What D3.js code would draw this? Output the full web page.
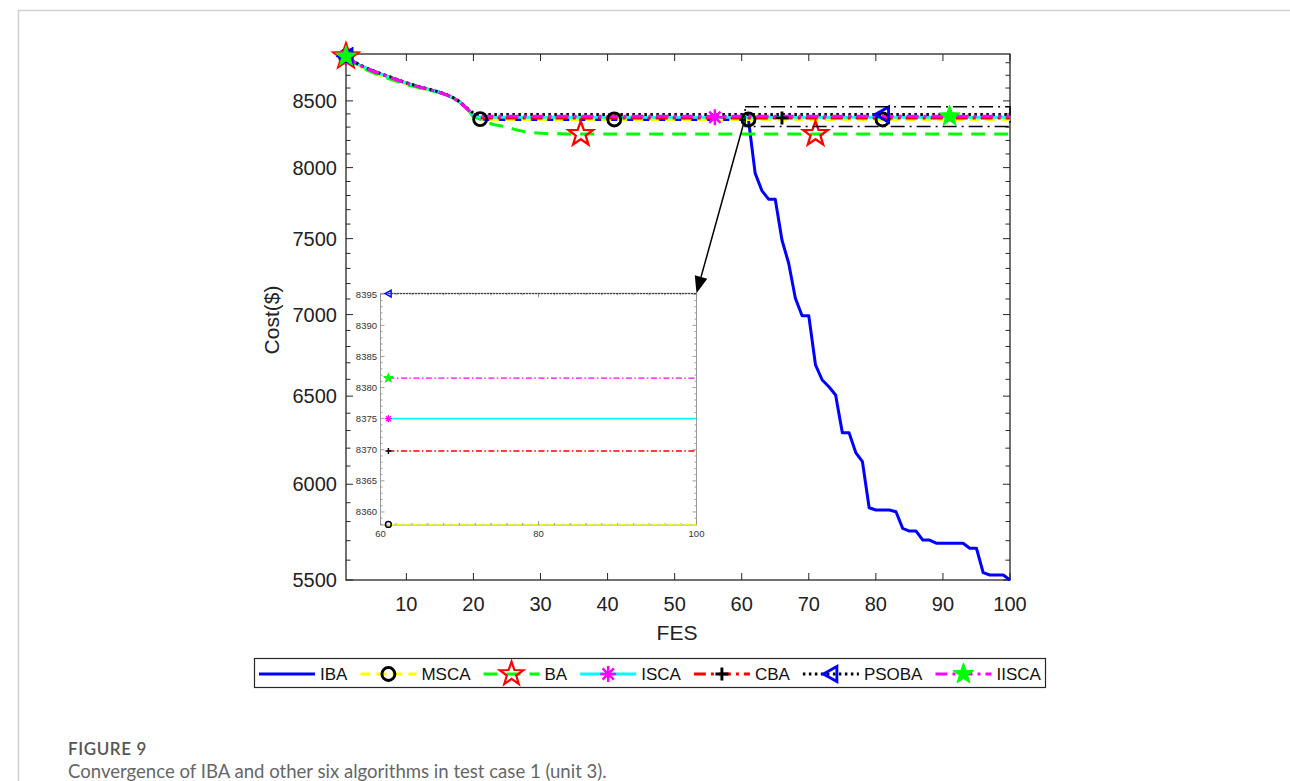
<!DOCTYPE html>
<html><head><meta charset="utf-8">
<script src="https://cdn.jsdelivr.net/npm/d3@7"></script>
<style>body{margin:0;background:#fff;} svg{display:block;}</style>
</head><body><svg id="c" width="1290" height="781"></svg>
<script>
// ---------------- DATA ----------------
const fes = d3.range(1, 101);
const seriesNames = ["IBA", "MSCA", "BA", "ISCA", "CBA", "PSOBA", "IISCA"];

const iba = [
 8850,8812,8782,8756,8734,8714,8695,8676,8657,8638,
 8622,8607,8593,8580,8565,8547,8523,8490,8442,8385,
 8362,8358,8358,8358,8358,8358,8358,8358,8358,8358,
 8358,8358,8358,8358,8358,8358,8358,8358,8358,8358,
 8358,8358,8358,8358,8358,8358,8358,8358,8358,8358,
 8358,8358,8358,8358,8358,8358,8358,8358,8358,8358,
 8358,7960,7835,7774,7774,7491,7334,7105,6993,6993,
 6687,6596,6556,6507,6288,6288,6175,6124,5873,5861,
 5861,5861,5852,5764,5750,5750,5703,5703,5687,5687,
 5687,5687,5687,5661,5661,5537,5525,5525,5525,5500];
const msca = [
 8850,8806,8773,8745,8721,8700,8681,8663,8645,8628,
 8613,8600,8588,8576,8562,8545,8522,8490,8442,8378,
 8360,8358,8358,8358,8358,8358,8358,8358,8358,8358,
 8358,8358,8358,8358,8358,8358,8358,8358,8358,8358,
 8358,8358,8358,8358,8358,8358,8358,8358,8358,8358,
 8358,8358,8358,8358,8358,8358,8358,8358,8358,8358,
 8358,8358,8358,8358,8358,8358,8358,8358,8358,8358,
 8358,8358,8358,8358,8358,8358,8358,8358,8358,8358,
 8358,8358,8358,8358,8358,8358,8358,8358,8358,8358,
 8358,8358,8358,8358,8358,8358,8358,8358,8358,8358];
const ba = [
 8850,8806,8773,8745,8721,8700,8681,8663,8645,8628,
 8613,8600,8588,8576,8562,8545,8522,8490,8442,8378,
 8360,8335,8320,8310,8300,8285,8272,8262,8257,8254,
 8252,8250,8250,8249,8249,8248,8248,8248,8248,8248,
 8248,8248,8248,8248,8248,8248,8248,8248,8248,8248,
 8248,8248,8248,8248,8248,8248,8248,8248,8248,8248,
 8248,8248,8248,8248,8248,8248,8248,8248,8248,8248,
 8248,8248,8248,8248,8248,8248,8248,8248,8248,8248,
 8248,8248,8248,8248,8248,8248,8248,8248,8248,8248,
 8248,8248,8248,8248,8248,8248,8248,8248,8248,8248];
const isca = [
 8850,8812,8782,8756,8734,8714,8695,8676,8657,8638,
 8622,8607,8593,8580,8565,8547,8523,8490,8442,8392,
 8375,8375,8375,8375,8375,8375,8375,8375,8375,8375,
 8375,8375,8375,8375,8375,8375,8375,8375,8375,8375,
 8375,8375,8375,8375,8375,8375,8375,8375,8375,8375,
 8375,8375,8375,8375,8375,8375,8375,8375,8375,8375,
 8375,8375,8375,8375,8375,8375,8375,8375,8375,8375,
 8375,8375,8375,8375,8375,8375,8375,8375,8375,8375,
 8375,8375,8375,8375,8375,8375,8375,8375,8375,8375,
 8375,8375,8375,8375,8375,8375,8375,8375,8375,8375];
const cba = [
 8850,8812,8782,8756,8734,8714,8695,8676,8657,8638,
 8622,8607,8593,8580,8565,8547,8523,8490,8442,8390,
 8369.8,8369.8,8369.8,8369.8,8369.8,8369.8,8369.8,8369.8,8369.8,8369.8,
 8369.8,8369.8,8369.8,8369.8,8369.8,8369.8,8369.8,8369.8,8369.8,8369.8,
 8369.8,8369.8,8369.8,8369.8,8369.8,8369.8,8369.8,8369.8,8369.8,8369.8,
 8369.8,8369.8,8369.8,8369.8,8369.8,8369.8,8369.8,8369.8,8369.8,8369.8,
 8369.8,8369.8,8369.8,8369.8,8369.8,8369.8,8369.8,8369.8,8369.8,8369.8,
 8369.8,8369.8,8369.8,8369.8,8369.8,8369.8,8369.8,8369.8,8369.8,8369.8,
 8369.8,8369.8,8369.8,8369.8,8369.8,8369.8,8369.8,8369.8,8369.8,8369.8,
 8369.8,8369.8,8369.8,8369.8,8369.8,8369.8,8369.8,8369.8,8369.8,8369.8];
const psoba = [
 8850,8814,8785,8759,8737,8717,8698,8679,8660,8641,
 8625,8610,8596,8582,8567,8549,8525,8493,8446,8405,
 8395.1,8395.1,8395.1,8395.1,8395.1,8395.1,8395.1,8395.1,8395.1,8395.1,
 8395.1,8395.1,8395.1,8395.1,8395.1,8395.1,8395.1,8395.1,8395.1,8395.1,
 8395.1,8395.1,8395.1,8395.1,8395.1,8395.1,8395.1,8395.1,8395.1,8395.1,
 8395.1,8395.1,8395.1,8395.1,8395.1,8395.1,8395.1,8395.1,8395.1,8395.1,
 8395.1,8395.1,8395.1,8395.1,8395.1,8395.1,8395.1,8395.1,8395.1,8395.1,
 8395.1,8395.1,8395.1,8395.1,8395.1,8395.1,8395.1,8395.1,8395.1,8395.1,
 8395.1,8395.1,8395.1,8395.1,8395.1,8395.1,8395.1,8395.1,8395.1,8395.1,
 8395.1,8395.1,8395.1,8395.1,8395.1,8395.1,8395.1,8395.1,8395.1,8395.1];
const iisca = [
 8850,8812,8782,8756,8734,8714,8695,8676,8657,8638,
 8622,8607,8593,8580,8565,8547,8523,8490,8442,8398,
 8381.5,8381.5,8381.5,8381.5,8381.5,8381.5,8381.5,8381.5,8381.5,8381.5,
 8381.5,8381.5,8381.5,8381.5,8381.5,8381.5,8381.5,8381.5,8381.5,8381.5,
 8381.5,8381.5,8381.5,8381.5,8381.5,8381.5,8381.5,8381.5,8381.5,8381.5,
 8381.5,8381.5,8381.5,8381.5,8381.5,8381.5,8381.5,8381.5,8381.5,8381.5,
 8381.5,8381.5,8381.5,8381.5,8381.5,8381.5,8381.5,8381.5,8381.5,8381.5,
 8381.5,8381.5,8381.5,8381.5,8381.5,8381.5,8381.5,8381.5,8381.5,8381.5,
 8381.5,8381.5,8381.5,8381.5,8381.5,8381.5,8381.5,8381.5,8381.5,8381.5,
 8381.5,8381.5,8381.5,8381.5,8381.5,8381.5,8381.5,8381.5,8381.5,8381.5];

// marker positions (FES index)
const ibaMarks = [];
const mscaMarks = [1, 21, 41, 61, 81];
const baMarks = [1, 36, 71];
const iscaMarks = [1, 56];
const cbaMarks = [1, 66];
const psobaMarks = [1, 81];
const iiscaMarks = [1, 91];

const xTicks = [10, 20, 30, 40, 50, 60, 70, 80, 90, 100];
const yTicks = [5500, 6000, 6500, 7000, 7500, 8000, 8500];
const yMinorTicks = [5600,5700,5800,5900,6100,6200,6300,6400,6600,6700,6800,6900,7100,7200,7300,7400,7600,7700,7800,7900,8100,8200,8300,8400,8600,8700,8800];
const insetXTicks = [60, 80, 100];
const insetYTicks = [8360, 8365, 8370, 8375, 8380, 8385, 8390, 8395];
const insetFes = [61, 100];
const zoomBox = {x0: 60.5, x1: 100, y0: 8305, y1: 8455};

const xLabel = "FES";
const yLabel = "Cost($)";
const figTitle = "FIGURE 9";
const figCaption = "Convergence of IBA and other six algorithms in test case 1 (unit 3).";

// ---------------- STYLE ----------------
const values = [iba, msca, ba, isca, cba, psoba, iisca];
const marks = [ibaMarks, mscaMarks, baMarks, iscaMarks, cbaMarks, psobaMarks, iiscaMarks];
const style = [
  {color:"#0000ff", dash:null, marker:null},
  {color:"#ffff00", dash:"10,6", marker:"circle"},
  {color:"#00ff00", dash:"14,9", marker:"starRed"},
  {color:"#00ffff", dash:null, marker:"asterisk"},
  {color:"#ff0000", dash:"12,5,3,5", marker:"plus"},
  {color:"#000000", dash:"2.5,3.5", marker:"triLeft"},
  {color:"#ff00ff", dash:"12,5,3,5", marker:"starGreen"}
];
const AX = "#262626";
const FONT = "'Liberation Sans', Arial, sans-serif";

function starPath(R){
  const p=[];
  for(let i=0;i<10;i++){const a=-Math.PI/2+i*Math.PI/5;const r=i%2?R*0.40:R;p.push([r*Math.cos(a),r*Math.sin(a)]);}
  return "M"+p.map(d=>d[0].toFixed(2)+","+d[1].toFixed(2)).join("L")+"Z";
}
function drawMarker(g, type, s){
  if(type==="circle"){
    g.append("circle").attr("r",6.5*s).attr("fill","none").attr("stroke","#000").attr("stroke-width",2.6*s+0.3);
  } else if(type==="starRed"){
    g.append("path").attr("d",starPath(13*s)).attr("fill","none").attr("stroke","#ff0000").attr("stroke-width",2*s+0.3);
  } else if(type==="starGreen"){
    g.append("path").attr("d",starPath(11*s)).attr("fill","#00ff00").attr("stroke","#00ff00").attr("stroke-width",1);
  } else if(type==="asterisk"){
    const r=8*s, d=r*0.7071;
    g.append("path").attr("d",`M${-r},0H${r}M0,${-r}V${r}M${-d},${-d}L${d},${d}M${-d},${d}L${d},${-d}`)
      .attr("stroke","#ff00ff").attr("stroke-width",2.2*s+0.3).attr("fill","none");
  } else if(type==="plus"){
    const r=6.5*s;
    g.append("path").attr("d",`M${-r},0H${r}M0,${-r}V${r}`).attr("stroke","#000").attr("stroke-width",2.6*s+0.3);
  } else if(type==="triLeft"){
    const r=7.5*s;
    g.append("path").attr("d",`M${-r},0L${r*0.8},${-r}L${r*0.8},${r}Z`).attr("fill","none").attr("stroke","#0000ff").attr("stroke-width",2.6*s+0.3);
  }
}

// ---------------- CHART ----------------
const svg = d3.select("#c");
svg.append("rect").attr("width",1290).attr("height",781).attr("fill","#fff");
svg.append("path").attr("d","M18.5,781V10.5H1290").attr("fill","none").attr("stroke","#d0d0d0").attr("stroke-width",1.5);

const L=346, R=1010, T=54, B=580;
const x = d3.scaleLinear().domain([1,100]).range([L,R]);
const y = d3.scaleLog().domain([5500,8870]).range([B,T]);

const axG = svg.append("g");
xTicks.forEach(t=>{
  axG.append("line").attr("x1",x(t)).attr("x2",x(t)).attr("y1",B).attr("y2",B-7).attr("stroke",AX);
  axG.append("line").attr("x1",x(t)).attr("x2",x(t)).attr("y1",T).attr("y2",T+7).attr("stroke",AX);
  axG.append("text").attr("x",x(t)).attr("y",611).attr("text-anchor","middle").attr("font-family",FONT).attr("font-size",20).attr("fill","#222").text(t);
});
yTicks.forEach(t=>{
  axG.append("line").attr("x1",L).attr("x2",L+7).attr("y1",y(t)).attr("y2",y(t)).attr("stroke",AX);
  axG.append("line").attr("x1",R).attr("x2",R-7).attr("y1",y(t)).attr("y2",y(t)).attr("stroke",AX);
  axG.append("text").attr("x",337).attr("y",y(t)).attr("dy","0.36em").attr("text-anchor","end").attr("font-family",FONT).attr("font-size",20).attr("fill","#222").text(t);
});
yMinorTicks.forEach(t=>{
  axG.append("line").attr("x1",L).attr("x2",L+4.5).attr("y1",y(t)).attr("y2",y(t)).attr("stroke",AX);
  axG.append("line").attr("x1",R).attr("x2",R-4.5).attr("y1",y(t)).attr("y2",y(t)).attr("stroke",AX);
});
axG.append("rect").attr("x",L).attr("y",T).attr("width",R-L).attr("height",B-T).attr("fill","none").attr("stroke",AX).attr("stroke-width",1.3);

svg.append("text").attr("x",677).attr("y",640).attr("text-anchor","middle").attr("font-family",FONT).attr("font-size",21).attr("fill","#222").text(xLabel);
svg.append("text").attr("transform","translate(279,320) rotate(-90)").attr("text-anchor","middle").attr("font-family",FONT).attr("font-size",21).attr("fill","#222").text(yLabel);

const line = d3.line().x((d,i)=>x(fes[i])).y(d=>y(d));
values.forEach((v,k)=>{
  svg.append("path").attr("d",line(v)).attr("fill","none").attr("stroke",style[k].color)
    .attr("stroke-width",3).attr("stroke-dasharray",style[k].dash).attr("stroke-linejoin","round");
});
values.forEach((v,k)=>{
  marks[k].forEach(m=>{
    const g=svg.append("g").attr("transform",`translate(${x(m)},${y(v[m-1])})`);
    drawMarker(g, style[k].marker, 1);
  });
});

svg.append("rect").attr("x",x(zoomBox.x0)).attr("y",y(zoomBox.y1)).attr("width",x(zoomBox.x1)-x(zoomBox.x0)).attr("height",y(zoomBox.y0)-y(zoomBox.y1))
  .attr("fill","none").attr("stroke","#000").attr("stroke-width",1.5).attr("stroke-dasharray","14,5,2,5");

// inset
const iL=380.5, iR=696.5, iT=293.3, iB=525;
const ix = d3.scaleLinear().domain([60,100]).range([iL,iR]);
const iy = d3.scaleLinear().domain([8357.9,8395.15]).range([iB,iT]);
const inset = svg.append("g");
inset.append("rect").attr("x",iL).attr("y",iT).attr("width",iR-iL).attr("height",iB-iT).attr("fill","#fff").attr("stroke","#9a9a9a").attr("stroke-width",1);
d3.range(8358,8396,1).forEach(t=>{
  const big = t%5===0;
  inset.append("line").attr("x1",iL).attr("x2",iL+(big?4:2)).attr("y1",iy(t)).attr("y2",iy(t)).attr("stroke","#888").attr("stroke-width",0.8);
  inset.append("line").attr("x1",iR).attr("x2",iR-(big?4:2)).attr("y1",iy(t)).attr("y2",iy(t)).attr("stroke","#888").attr("stroke-width",0.8);
});
d3.range(60,101,2).forEach(t=>{
  const big = t%20===0;
  inset.append("line").attr("x1",ix(t)).attr("x2",ix(t)).attr("y1",iB).attr("y2",iB-(big?4:2)).attr("stroke","#888").attr("stroke-width",0.8);
  inset.append("line").attr("x1",ix(t)).attr("x2",ix(t)).attr("y1",iT).attr("y2",iT+(big?4:2)).attr("stroke","#888").attr("stroke-width",0.8);
});
insetYTicks.forEach(t=>{
  inset.append("text").attr("x",377).attr("y",iy(t)).attr("dy","0.35em").attr("text-anchor","end").attr("font-family",FONT).attr("font-size",9.5).attr("fill","#333").text(t);
});
insetXTicks.forEach(t=>{
  inset.append("text").attr("x",ix(t)).attr("y",537).attr("text-anchor","middle").attr("font-family",FONT).attr("font-size",9.5).attr("fill","#333").text(t);
});
const iline = d3.line().x(d=>ix(d[0])).y(d=>iy(d[1]));
const insetSeries = [1,3,4,5,6];
insetSeries.forEach(k=>{
  const pts = fes.map((f,i)=>[f,values[k][i]]).filter(d=>d[0]>=insetFes[0]&&d[0]<=insetFes[1]);
  inset.append("path").attr("d",iline(pts)).attr("fill","none").attr("stroke",style[k].color)
    .attr("stroke-width",k===3?1.6:1.3).attr("stroke-dasharray",style[k].dash?style[k].dash.split(",").map(n=>(+n*0.5)).join(","):null);
});
insetSeries.forEach(k=>{
  const f=insetFes[0];
  const g=inset.append("g").attr("transform",`translate(${ix(f)},${iy(values[k][f-1])})`);
  drawMarker(g, style[k].marker, 0.45);
});

// arrow
const aStart=[743.5,124], aEnd=[iR,iT];
const ang=Math.atan2(aEnd[1]-aStart[1],aEnd[0]-aStart[0]);
const hl=17, hw=6.5;
const bx=aEnd[0]-hl*Math.cos(ang), by=aEnd[1]-hl*Math.sin(ang);
svg.append("line").attr("x1",aStart[0]).attr("y1",aStart[1]).attr("x2",bx).attr("y2",by).attr("stroke","#000").attr("stroke-width",1.5);
svg.append("path").attr("d",`M${aEnd[0]},${aEnd[1]}L${bx+hw*Math.sin(ang)},${by-hw*Math.cos(ang)}L${bx-hw*Math.sin(ang)},${by+hw*Math.cos(ang)}Z`).attr("fill","#000");

// legend
const lg = svg.append("g");
lg.append("rect").attr("x",254.5).attr("y",658.5).attr("width",791).attr("height",29).attr("fill","#fff").attr("stroke",AX).attr("stroke-width",1.2);
let sx = 259; const ly = 674;
seriesNames.forEach((name,k)=>{
  lg.append("line").attr("x1",sx).attr("x2",sx+56).attr("y1",ly).attr("y2",ly).attr("stroke",style[k].color).attr("stroke-width",3).attr("stroke-dasharray",style[k].dash);
  if(style[k].marker){ const g=lg.append("g").attr("transform",`translate(${sx+28},${ly})`); drawMarker(g, style[k].marker, k===2?0.95:1); }
  const t = lg.append("text").attr("x",sx+61).attr("y",ly).attr("dy","0.36em").attr("font-family",FONT).attr("font-size",17).attr("fill","#111").text(name);
  sx = sx+61+t.node().getComputedTextLength()+13;
});

// caption
svg.append("text").attr("x",68).attr("y",755).attr("font-family","Lato, 'Open Sans', sans-serif").attr("font-size",17).attr("font-weight",600).attr("letter-spacing",0.6).attr("fill","#555").text(figTitle);
const cap = svg.append("text").attr("x",68).attr("y",778).attr("font-family","Lato, 'Open Sans', sans-serif").attr("font-size",16).attr("fill","#666").text(figCaption);
const cw = cap.node().getComputedTextLength();
cap.attr("font-size", 16*539/cw);
</script></body></html>
